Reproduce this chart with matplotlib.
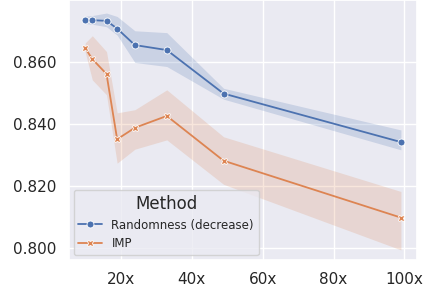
import matplotlib
matplotlib.use("Agg")
import matplotlib.pyplot as plt
import seaborn as sns

# compression ratios
ratios = [10, 12, 16, 19, 24, 33, 49, 99]

rand_mean = [0.8734, 0.8733, 0.8731, 0.8706, 0.8653, 0.8637, 0.8497, 0.8341]
rand_low = [0.8722, 0.8720, 0.8712, 0.8685, 0.8597, 0.8584, 0.8479, 0.8316]
rand_high = [0.8746, 0.8748, 0.8756, 0.8745, 0.8699, 0.8693, 0.8514, 0.8380]

imp_mean = [0.8643, 0.8608, 0.8560, 0.8350, 0.8387, 0.8425, 0.8281, 0.8098]
imp_low = [0.8630, 0.8541, 0.8493, 0.8273, 0.8318, 0.8348, 0.8205, 0.7994]
imp_high = [0.8660, 0.8683, 0.8632, 0.8435, 0.8445, 0.8509, 0.8358, 0.8182]

names = ["Randomness (decrease)", "IMP"]
xticks = [20, 40, 60, 80, 100]
yticks = [0.800, 0.820, 0.840, 0.860]

sns.set_theme(style="darkgrid")
pal = sns.color_palette()

fig = plt.figure(figsize=(4.28, 2.91), dpi=100)
ax = fig.add_axes([0.161, 0.107, 0.813, 0.893])

ax.fill_between(ratios, rand_low, rand_high, color=pal[0], alpha=0.2, linewidth=0)
ax.plot(ratios, rand_mean, color=pal[0], marker="o", markersize=5,
        markeredgecolor="white", markeredgewidth=0.6, linewidth=1.3, label=names[0])
ax.fill_between(ratios, imp_low, imp_high, color=pal[1], alpha=0.2, linewidth=0)
ax.plot(ratios, imp_mean, color=pal[1], marker="X", markersize=5,
        markeredgecolor="white", markeredgewidth=0.6, linewidth=1.3, label=names[1])

ax.set_xlim(5.4, 103.5)
ax.set_ylim(0.7962, 0.8798)
ax.set_xticks(xticks)
ax.set_xticklabels([f"{t}x" for t in xticks], fontsize=11)
ax.set_yticks(yticks)
ax.set_yticklabels([f"{t:.3f}" for t in yticks], fontsize=11)
ax.tick_params(axis="both", pad=3)

leg = ax.legend(title="Method", loc="lower left", fontsize=8.5,
                title_fontsize=12, borderaxespad=0.4)

fig.savefig("out.png", dpi=100)
